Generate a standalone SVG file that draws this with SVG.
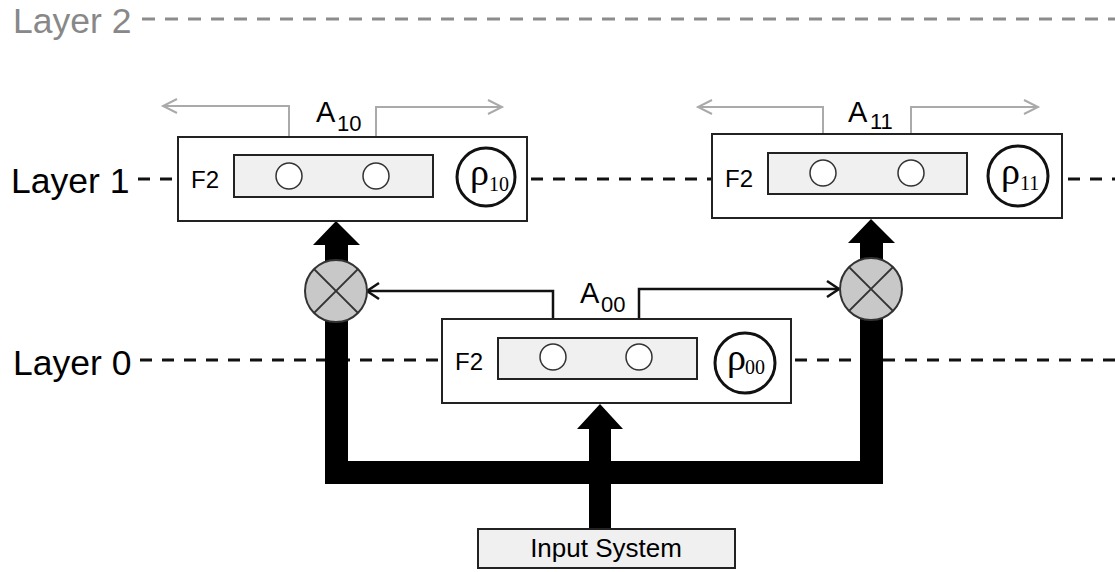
<svg xmlns="http://www.w3.org/2000/svg" width="1115" height="572" viewBox="0 0 1115 572">
<style>
.lbl{font-family:"Liberation Sans",Arial,sans-serif;fill:#000}
.layer{font-size:35.5px}
.f2{font-size:24px}
.a{font-size:29px}
.asub{font-size:22px}
.rho{font-family:"Liberation Serif","Times New Roman",serif;font-size:38px;fill:#000}
.rsub{font-family:"Liberation Serif","Times New Roman",serif;font-size:20px;fill:#000}
.box{fill:#fff;stroke:#222;stroke-width:2}
.inner{fill:#f0f0f0;stroke:#222;stroke-width:2}
.unit{fill:#fff;stroke:#333;stroke-width:1.5}
.rc{fill:#fff;stroke:#111;stroke-width:3}
.dash{stroke:#111;stroke-width:3;stroke-dasharray:12 10;fill:none}
.dashg{stroke:#8c8c8c;stroke-width:3;stroke-dasharray:13 10;fill:none}
.thin{stroke:#111;stroke-width:2.5;fill:none;marker-end:url(#ab)}
.gray{stroke:#aaa;stroke-width:2;fill:none;marker-end:url(#ag)}
.mult{fill:#c8c8c8;stroke:#333;stroke-width:2}
.x{stroke:#333;stroke-width:2}
.thick{fill:#000}
</style>
<defs>
<marker id="ab" markerUnits="userSpaceOnUse" markerWidth="24" markerHeight="24" viewBox="-18 -12 24 24" refX="0" refY="0" orient="auto" overflow="visible">
<path d="M-12,-8 L0,0 L-12,8" fill="none" stroke="#111" stroke-width="2.5"/>
</marker>
<marker id="ag" markerUnits="userSpaceOnUse" markerWidth="24" markerHeight="24" viewBox="-18 -12 24 24" refX="0" refY="0" orient="auto" overflow="visible">
<path d="M-14,-7 L0,0 L-14,7" fill="none" stroke="#aaa" stroke-width="2"/>
</marker>
</defs>
<rect width="1115" height="572" fill="#fff"/>

<g id="layer-lines">
<line class="dashg" x1="142" y1="19" x2="1115" y2="19"/>
<line class="dash" x1="138" y1="179" x2="178" y2="179"/>
<line class="dash" x1="531" y1="179" x2="712" y2="179"/>
<line class="dash" x1="1068" y1="179" x2="1115" y2="179"/>
<line class="dash" x1="140" y1="360" x2="442" y2="360"/>
<line class="dash" x1="795" y1="360" x2="1115" y2="360"/>
</g>

<g id="layer-labels">
<text class="lbl layer" x="13" y="33" style="fill:#888">Layer 2</text>
<text class="lbl layer" x="11" y="193">Layer 1</text>
<text class="lbl layer" x="13" y="375">Layer 0</text>
</g>

<g id="connectors">
<path class="thick" d="M325,245 L313,245 L336,221 L360,245 L348,245 L348,461 L589,461 L589,429 L577,429 L600,404 L623,429 L611,429 L611,461 L860,461 L860,243 L848,243 L871,219 L895,243 L883,243 L883,484 L611,484 L611,530 L589,530 L589,484 L325,484 Z"/>
<polyline class="thin" points="553,344 553,291 367,291"/>
<polyline class="thin" points="639,344 639,289 839,289"/>
<polyline class="gray" points="289,163 289,106 163,106"/>
<polyline class="gray" points="376,163 376,107 502,107"/>
<polyline class="gray" points="823,160 823,107 698,107"/>
<polyline class="gray" points="911,160 911,107 1038,107"/>
</g>

<g id="mult-left">
<circle class="mult" cx="336" cy="291" r="31"/>
<line class="x" x1="314.1" y1="269.1" x2="357.9" y2="312.9"/>
<line class="x" x1="357.9" y1="269.1" x2="314.1" y2="312.9"/>
</g>
<g id="mult-right">
<circle class="mult" cx="871" cy="289" r="31"/>
<line class="x" x1="849.1" y1="267.1" x2="892.9" y2="310.9"/>
<line class="x" x1="892.9" y1="267.1" x2="849.1" y2="310.9"/>
</g>

<g id="node-A10">
<rect class="box" x="178" y="137" width="349" height="84"/>
<rect class="inner" x="234" y="155" width="199" height="42"/>
<circle class="unit" cx="289" cy="176" r="13"/>
<circle class="unit" cx="376" cy="176" r="13"/>
<circle class="rc" cx="486" cy="177" r="29"/>
<text class="lbl f2" x="191" y="188">F2</text>
<text class="rho" x="470" y="185">ρ</text>
<text class="rsub" x="489" y="191">10</text>
<text class="lbl a" x="316" y="122">A</text>
<text class="lbl asub" x="337" y="131">10</text>
</g>

<g id="node-A11">
<rect class="box" x="712" y="134" width="350" height="84"/>
<rect class="inner" x="768" y="153" width="199" height="41"/>
<circle class="unit" cx="823" cy="173" r="13"/>
<circle class="unit" cx="911" cy="173" r="13"/>
<circle class="rc" cx="1018" cy="176" r="30"/>
<text class="lbl f2" x="725" y="187">F2</text>
<text class="rho" x="1001" y="184">ρ</text>
<text class="rsub" x="1020" y="190">11</text>
<text class="lbl a" x="848" y="122">A</text>
<text class="lbl asub" x="870" y="129">11</text>
</g>

<g id="node-A00">
<rect class="box" x="442" y="319" width="349" height="84"/>
<rect class="inner" x="498" y="338" width="199" height="41"/>
<circle class="unit" cx="553" cy="357" r="13"/>
<circle class="unit" cx="639" cy="357" r="13"/>
<circle class="rc" cx="745" cy="363" r="30"/>
<text class="lbl f2" x="455" y="370">F2</text>
<text class="rho" x="727" y="370">ρ</text>
<text class="rsub" x="745" y="374">00</text>
<text class="lbl a" x="580" y="303">A</text>
<text class="lbl asub" x="601" y="312">00</text>
</g>

<g id="node-input">
<rect x="478" y="529" width="257" height="39" fill="#f0f0f0" stroke="#222" stroke-width="2"/>
<text class="lbl" x="606" y="557" font-size="26" text-anchor="middle">Input System</text>
</g>
</svg>
